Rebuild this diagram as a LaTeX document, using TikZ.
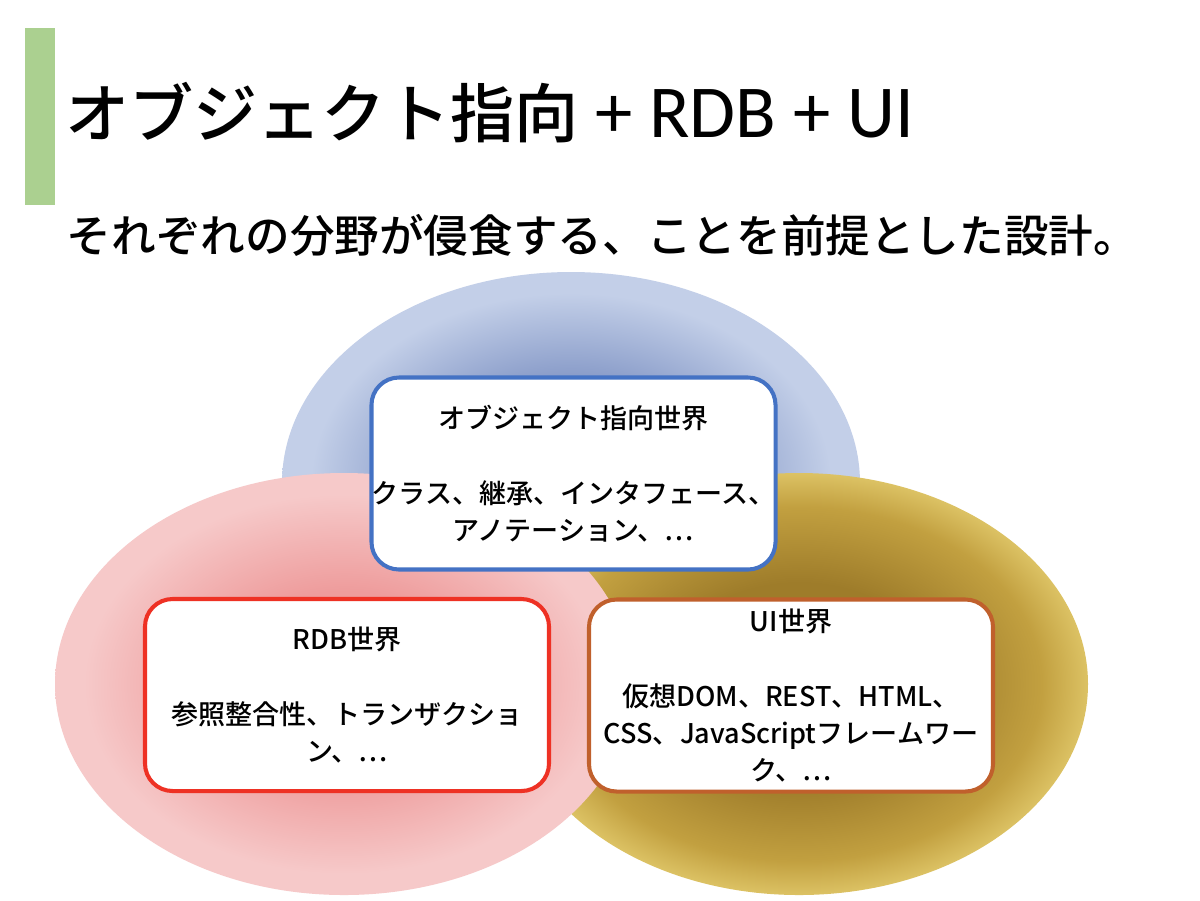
\documentclass[tikz,border=0pt]{standalone}
\usepackage{fontspec}
\usepackage{tikz}
\usepackage{xcolor}
\setmainfont{Noto Sans CJK JP}
\newfontfamily\jpmedium{Noto Sans CJK JP Medium}
\newfontfamily\latinfont{Carlito}
\definecolor{oolight}{HTML}{C3CFE8}
\definecolor{oodark}{HTML}{8094C4}
\definecolor{rdblight}{HTML}{F6C9C9}
\definecolor{rdbdark}{HTML}{EE9C9C}
\definecolor{uilight}{HTML}{DCC264}
\definecolor{uimid}{HTML}{C2A040}
\definecolor{uidark}{HTML}{9E7C2A}
\definecolor{ooline}{HTML}{4472C4}
\definecolor{rdbline}{HTML}{EE3124}
\definecolor{uiline}{HTML}{C0602C}
\definecolor{bargreen}{HTML}{ABD090}
\pgfdeclareradialshading{ooshade}{\pgfpoint{0bp}{0bp}}{color(0bp)=(oodark); color(11bp)=(oodark); color(22.5bp)=(oolight); color(25bp)=(oolight); color(50bp)=(oolight)}
\pgfdeclareradialshading{rdbshade}{\pgfpoint{0bp}{0bp}}{color(0bp)=(rdbdark); color(11bp)=(rdbdark); color(22.5bp)=(rdblight); color(25bp)=(rdblight); color(50bp)=(rdblight)}
\pgfdeclareradialshading{uishade}{\pgfpoint{0bp}{0bp}}{color(0bp)=(uidark); color(12bp)=(uidark); color(21bp)=(uimid); color(25bp)=(uilight); color(50bp)=(uilight)}
\tikzset{world/.style={draw, line width=2.3pt, fill=white, rounded corners=0.55cm,
   minimum width=8.08cm, minimum height=3.84cm, inner sep=0pt, align=center,
   font=\jpmedium\fontsize{15.4}{21.3}\selectfont},
 oobox/.style={world, draw=ooline},
 rdbbox/.style={world, draw=rdbline},
 uibox/.style={world, draw=uiline},
 }

\begin{document}
\begin{tikzpicture}
        \fill[white] (0,0) rectangle (24,-18);
        \useasboundingbox (0,0) rectangle (24,-18);

        \fill[bargreen] (0.5,-0.56) rectangle (1.1,-4.1);
        \node[anchor=base west, inner sep=0pt] (title) at (1.3,-2.74)
            {\jpmedium\fontsize{36.5}{40}\selectfont オブジェクト指向\latinfont\fontsize{42.5}{46}\selectfont\ + RDB + UI};
        \node[anchor=base west, inner sep=0pt] (subtitle) at (1.33,-5.04)
            {\jpmedium\fontsize{25.4}{28}\selectfont それぞれの分野が侵食する、ことを前提とした設計。};

        \shade[shading=ooshade] (11.42,-9.66) ellipse [x radius=5.78, y radius=4.22];
        \shade[shading=uishade] (15.98,-13.68) ellipse [x radius=5.78, y radius=4.22];
        \shade[shading=rdbshade] (6.88,-13.68) ellipse [x radius=5.78, y radius=4.22];

        \node[oobox] (ooworld) at (11.47,-9.47)
            {オブジェクト指向世界\\[21.3pt]クラス、継承、インタフェース、\\アノテーション、…};
        \node[rdbbox] (rdbworld) at (6.94,-13.9)
            {RDB世界\\[21.3pt]参照整合性、トランザクショ\\ン、…};
        \node[uibox] (uiworld) at (15.82,-13.91)
            {UI世界\\[21.3pt]仮想DOM、REST、HTML、\\CSS、JavaScriptフレームワー\\ク、…};
    \end{tikzpicture}
\end{document}
